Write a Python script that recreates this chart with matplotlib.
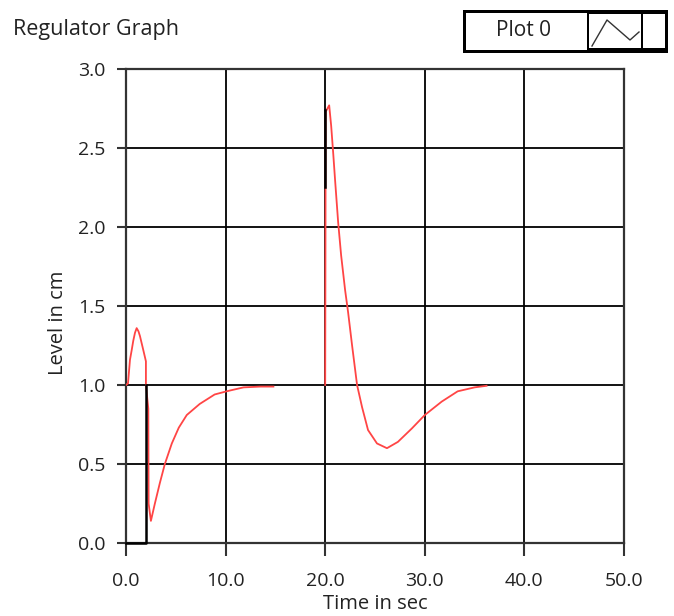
import numpy as np
import matplotlib.pyplot as plt
from matplotlib.patches import Rectangle
from matplotlib.lines import Line2D

W, H = 674, 616

# red curve (level in cm vs time in sec), gap between the two runs
t_red = [0, 0.2, 0.4, 0.57, 0.73, 0.9, 1.07, 1.25, 1.4, 1.74, 2.0, 2.0,
         2.24, 2.27, 2.5, 2.9, 3.4, 3.9, 4.6, 5.3, 6.1, 7.4, 8.9, 10.1, 11.8, 13.5, 14.8,
         np.nan,
         20.0, 20.05, 20.4, 20.6, 20.8, 21.0, 21.3, 21.6, 22.0, 22.3, 22.7, 23.2,
         23.7, 24.3, 25.2, 26.2, 27.3, 28.7, 30.0, 31.7, 33.3, 35.0, 36.2]
y_red = [1.0, 1.01, 1.16, 1.22, 1.28, 1.33, 1.36, 1.34, 1.31, 1.22, 1.15, 1.0,
         0.85, 0.25, 0.14, 0.25, 0.38, 0.5, 0.63, 0.73, 0.81, 0.88, 0.94, 0.96, 0.985, 0.99, 0.99,
         np.nan,
         1.0, 2.73, 2.77, 2.64, 2.47, 2.29, 2.03, 1.82, 1.6, 1.46, 1.25, 1.0,
         0.86, 0.715, 0.63, 0.6, 0.64, 0.725, 0.81, 0.895, 0.96, 0.985, 0.995]

# black segments
t_blk = [0, 2.05, 2.05, np.nan, 19.98, 19.98]
y_blk = [0, 0, 1.0, np.nan, 2.255, 2.74]

x_ticks = [0, 10, 20, 30, 40, 50]
x_labels = ['0.0', '10.0', '20.0', '30.0', '40.0', '50.0']
y_ticks = [0, 0.5, 1.0, 1.5, 2.0, 2.5, 3.0]
y_labels = ['0.0', '0.5', '1.0', '1.5', '2.0', '2.5', '3.0']

plt.rcParams['font.family'] = ['Open Sans', 'DejaVu Sans']

def fx(px):
    return px / W
def fy(py):
    return 1 - py / H

fig = plt.figure(figsize=(W / 100, H / 100), dpi=100)
ax = fig.add_axes([fx(126), fy(543), fx(624) - fx(126), fy(69) - fy(543)])

ax.plot(t_red, y_red, color='#ff4545', lw=1.3, zorder=3)
ax.plot(t_blk, y_blk, color='black', lw=1.8, zorder=4, clip_on=False)

ax.set_xlim(0, 50)
ax.set_ylim(0, 3.0)
ax.set_xticks(x_ticks)
ax.set_xticklabels(x_labels)
ax.set_yticks(y_ticks)
ax.set_yticklabels(y_labels)
ax.grid(True, color='black', lw=1.3)
ax.set_axisbelow(True)
for s in ax.spines.values():
    s.set_color('#333333')
    s.set_linewidth(1.6)
ax.tick_params(direction='out', width=1.5, color='#333333',
               labelsize=14, labelcolor='#222222')
ax.tick_params(axis='y', length=6.5, pad=8)
ax.tick_params(axis='x', length=9, pad=12)

fig.text(fx(58), fy(323), 'Level in cm', rotation=90, ha='center', va='center',
         fontsize=14.5, color='#222222')
fig.text(fx(375), fy(604), 'Time in sec', ha='center', va='center',
         fontsize=14.5, color='#222222')
fig.text(fx(13), fy(30), 'Regulator Graph', ha='left', va='center',
         fontsize=15.5, color='#222222')

# legend box
def rect(x0, y0, x1, y1, fc):
    fig.patches.append(Rectangle((fx(x0), fy(y1)), fx(x1) - fx(x0), fy(y0) - fy(y1),
                                 transform=fig.transFigure, facecolor=fc,
                                 edgecolor='none'))

rect(463, 10, 668, 53, 'black')
rect(466, 13, 587, 50, 'white')
rect(589, 14, 641, 48, 'white')
rect(643, 14, 665, 48, 'white')
fig.lines.append(Line2D([fx(592), fx(607), fx(630), fx(639)],
                        [fy(46), fy(20), fy(40), fy(32)],
                        transform=fig.transFigure, color='#333333', lw=1.0))
fig.text(fx(523), fy(31), 'Plot 0', ha='center', va='center',
         fontsize=15, color='#222222')

fig.savefig('out.png', dpi=100)
